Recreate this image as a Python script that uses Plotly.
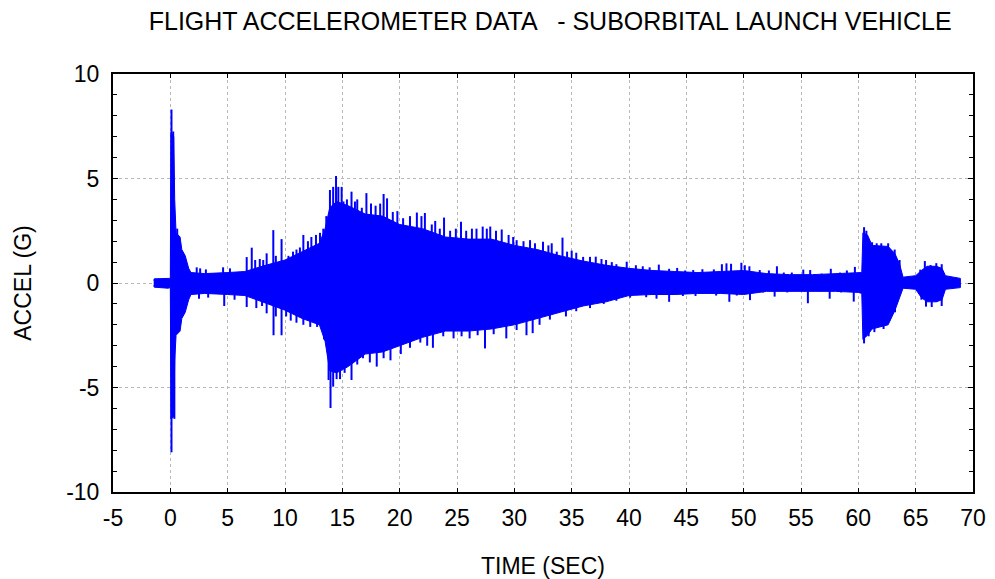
import plotly.graph_objects as go

# ---- data ----
# Dense body of the signal: envelope (time s, upper G, lower G)
body_t = [-1.45, -1.4, -0.2, 0.0, 0.05, 0.3, 0.38, 0.5, 0.85, 1.0, 1.3, 1.6, 1.8, 3.0, 5.0,
          6.5, 8.0, 10.0, 11.5, 13.0, 13.5, 13.9, 14.5, 15.5, 17.0, 18.5, 20.0, 22.0, 24.0,
          26.0, 28.0, 30.0, 32.0, 34.0, 36.0, 38.0, 40.0, 42.0, 44.0, 46.0, 48.0, 50.0,
          52.0, 54.0, 56.0, 58.0, 60.0, 60.3, 60.4, 60.8, 61.2, 62.6, 63.2, 63.6, 63.9,
          65.0, 65.5, 66.0, 66.8, 67.3, 67.6, 68.9]
body_hi = [0.12, 0.2, 0.22, 0.22, 7.2, 7.0, 4.0, 2.4, 2.2, 1.6, 1.3, 0.7, 0.5, 0.45, 0.5,
           0.55, 0.8, 1.1, 1.5, 1.9, 2.6, 3.6, 3.9, 3.7, 3.3, 3.2, 2.8, 2.6, 2.2,
           2.1, 2.1, 1.8, 1.6, 1.3, 1.05, 0.85, 0.7, 0.6, 0.55, 0.5, 0.55, 0.6,
           0.45, 0.4, 0.4, 0.45, 0.5, 0.5, 2.4, 2.3, 1.8, 1.75, 1.4, 0.9, 0.28,
           0.35, 0.6, 0.8, 0.8, 0.7, 0.35, 0.22]
body_lo = [-0.12, -0.2, -0.25, -0.22, -6.5, -6.4, -3.7, -2.5, -2.3, -1.7, -1.4, -0.8, -0.55, -0.5, -0.55,
           -0.6, -0.9, -1.3, -1.7, -2.0, -2.8, -4.2, -4.3, -4.0, -3.4, -3.3, -3.0, -2.6, -2.3,
           -2.3, -2.2, -2.0, -1.7, -1.4, -1.1, -0.9, -0.6, -0.55, -0.55, -0.5, -0.5, -0.55,
           -0.4, -0.4, -0.4, -0.4, -0.45, -0.5, -2.7, -2.5, -2.2, -2.0, -1.3, -0.7, -0.25,
           -0.3, -0.7, -0.9, -0.9, -0.8, -0.3, -0.22]

# Individual positive peaks (time s, G)
up_t = [0.1, 0.25, 0.6, 2.3, 2.6, 3.1, 4.6, 5.2, 6.66, 7.1, 7.4, 7.8, 8.1, 8.4, 8.98, 9.2, 9.7,
        10.3, 10.7, 11.0, 11.3, 11.6, 12.0, 12.3, 12.7, 13.05, 13.34, 13.6, 13.92, 14.2, 14.45,
        14.65, 14.94, 15.1, 15.4, 15.8, 16.1, 16.3, 16.7, 17.1, 17.5, 17.9, 18.3, 18.6, 18.9,
        19.4, 19.8, 20.3, 20.9, 21.5, 21.9, 22.2, 22.8, 23.1, 23.5, 23.87, 24.4, 24.9, 25.35,
        25.8, 26.3, 26.7, 27.24, 27.6, 27.9, 28.4, 28.9, 29.5, 29.9, 30.2, 30.8, 31.37, 31.8,
        32.5, 32.97, 33.26, 33.7, 34.2, 34.6, 35.0, 35.4, 36.0, 36.6, 37.1, 37.6, 38.0, 38.5,
        38.9, 39.8, 40.6, 41.2, 41.8, 42.6, 43.5, 44.2, 44.9, 45.6, 46.4, 47.4, 48.1, 48.5,
        48.9, 49.8, 50.1, 50.5, 51.4, 52.2, 52.9, 53.5, 54.2, 55.2, 55.8, 56.8, 57.6, 58.4,
        59.0, 59.7, 60.5, 60.7, 61.2, 61.6, 62.0, 62.6, 63.17, 63.6, 65.4, 65.8, 66.3, 66.8, 67.27]
up_v = [8.3, 7.25, 2.6, 0.75, 0.7, 0.65, 0.75, 0.7, 1.24, 1.69, 1.1, 1.15, 1.1, 1.42, 2.53, 1.3, 2.1,
        1.3, 1.5, 1.6, 1.7, 2.3, 2.0, 2.2, 2.3, 2.4, 2.6, 3.2, 4.45, 4.6, 5.12,
        4.6, 4.6, 3.9, 4.0, 4.37, 3.9, 4.0, 3.6, 4.3, 3.8, 3.7, 3.8, 4.26, 4.05,
        3.4, 3.44, 3.1, 3.2, 3.37, 3.2, 3.35, 2.8, 2.97, 2.6, 3.13, 2.5, 2.6, 2.93,
        2.5, 2.6, 2.6, 2.7, 2.6, 2.7, 2.5, 2.56, 2.3, 2.2, 2.05, 2.0, 2.05, 1.9,
        1.97, 1.8, 1.9, 1.5, 2.17, 1.5, 1.55, 1.45, 1.25, 1.25, 1.26, 1.15, 1.1, 1.0,
        0.9, 1.02, 0.85, 0.8, 0.75, 0.88, 0.68, 0.72, 0.6, 0.62, 0.66, 0.65, 0.9, 0.94,
        0.92, 0.97, 0.85, 0.8, 0.62, 0.6, 0.8, 0.5, 0.5, 0.64, 0.62, 0.45, 0.68, 0.5,
        0.6, 0.77, 2.67, 2.5, 1.95, 1.9, 1.9, 1.9, 1.6, 1.1, 0.64, 1.05, 0.86, 0.95, 0.9]

# Individual negative peaks (time s, G)
dn_t = [0.1, 0.35, 2.5, 3.3, 4.7, 5.6, 6.66, 7.5, 8.0, 8.4, 9.0, 9.2, 9.7, 10.1, 10.5, 11.0,
        11.6, 12.2, 12.8, 13.4, 13.8, 13.97, 14.2, 14.5, 14.8, 15.2, 15.8, 16.3, 16.8, 17.4,
        18.0, 18.6, 19.2, 20.1, 20.9, 21.8, 22.4, 22.9, 23.8, 24.7, 25.4, 26.1, 26.8, 27.44,
        28.2, 29.3, 30.2, 31.06, 31.6, 32.2, 33.1, 34.5, 35.4, 36.6, 37.8, 38.9, 40.1, 41.5,
        42.4, 43.5, 44.7, 45.8, 47.6, 48.75, 49.4, 50.55, 51.7, 52.7, 53.8, 55.6, 56.6, 57.5,
        58.5, 59.6, 60.5, 60.9, 61.4, 62.2, 62.7, 63.2, 65.5, 65.9, 66.4, 66.8, 67.27]
dn_v = [-8.1, -6.5, -0.75, -0.7, -1.1, -0.8, -1.15, -1.2, -1.1, -1.45, -2.5, -1.6, -2.5, -1.6, -1.8, -1.9,
        -2.0, -2.1, -2.1, -2.7, -4.64, -5.98, -4.96, -4.6, -4.6, -4.3, -4.64, -3.9, -3.6, -3.8,
        -4.0, -3.6, -3.7, -3.4, -3.1, -2.85, -3.0, -3.1, -2.55, -2.65, -2.55, -2.65, -2.5, -3.13,
        -2.45, -2.65, -2.25, -2.5, -2.4, -2.0, -1.75, -1.6, -1.35, -1.2, -1.0, -0.85, -0.7, -0.68,
        -0.75, -0.9, -0.62, -0.62, -0.6, -0.9, -0.6, -0.82, -0.45, -0.65, -0.45, -0.97, -0.4, -0.75,
        -0.45, -0.89, -2.89, -2.55, -2.35, -2.2, -1.8, -1.4, -0.8, -1.13, -1.15, -0.9, -1.1]

x_ticks = list(range(-5, 71, 5))
x_labels = [str(v) for v in x_ticks]
y_ticks = [-10, -5, 0, 5, 10]
y_labels = [str(v) for v in y_ticks]

BLUE = "#0000FF"
FONT = "Liberation Sans, Arial, sans-serif"
TITLE_FONT = "Liberation Sans Narrow, Arial Narrow, Liberation Sans, sans-serif"

fig = go.Figure()

# dense body as filled envelope
fig.add_trace(go.Scatter(
    x=body_t + body_t[::-1], y=body_hi + body_lo[::-1],
    mode="lines", fill="toself", fillcolor=BLUE,
    line=dict(color=BLUE, width=1), hoverinfo="skip", showlegend=False))

# peaks as vertical strokes
sx, sy = [], []
for t, v in zip(up_t + dn_t, up_v + dn_v):
    sx += [t, t, None]
    sy += [0, v, None]
fig.add_trace(go.Scatter(x=sx, y=sy, mode="lines",
                         line=dict(color=BLUE, width=2), hoverinfo="skip", showlegend=False))

axis_common = dict(
    showline=True, linecolor="black", linewidth=2, mirror="ticks",
    ticks="inside", tickcolor="black", tickwidth=1, automargin=False,
    showgrid=True, gridcolor="#b8b8b8", griddash="dot", gridwidth=1,
    zeroline=False, tickfont=dict(family=FONT, size=23, color="black"),
)

fig.update_xaxes(range=[-5, 70], tickvals=x_ticks, ticktext=x_labels, ticklen=4,
                 ticklabelstandoff=4,
                 title=dict(text="TIME (SEC)", font=dict(family=FONT, size=23, color="black"), standoff=31),
                 **axis_common)
fig.update_yaxes(range=[-10, 10], tickvals=y_ticks, ticktext=y_labels, ticklen=5,
                 ticklabelstandoff=7,
                 minor=dict(dtick=1, ticks="inside", ticklen=4, tickcolor="black", showgrid=False),
                 title=dict(text="ACCEL (G)", font=dict(family=FONT, size=23, color="black"), standoff=28),
                 **axis_common)

fig.update_layout(
    width=995, height=579,
    margin=dict(l=113, r=22, t=74, b=87),
    paper_bgcolor="white", plot_bgcolor="white",
    title=dict(text="FLIGHT ACCELEROMETER DATA &nbsp; - SUBORBITAL LAUNCH VEHICLE",
               x=0.553, xanchor="center", y=0.964, yanchor="middle",
               font=dict(family=TITLE_FONT, size=25, color="black")),
)

fig.write_html("out.html")
